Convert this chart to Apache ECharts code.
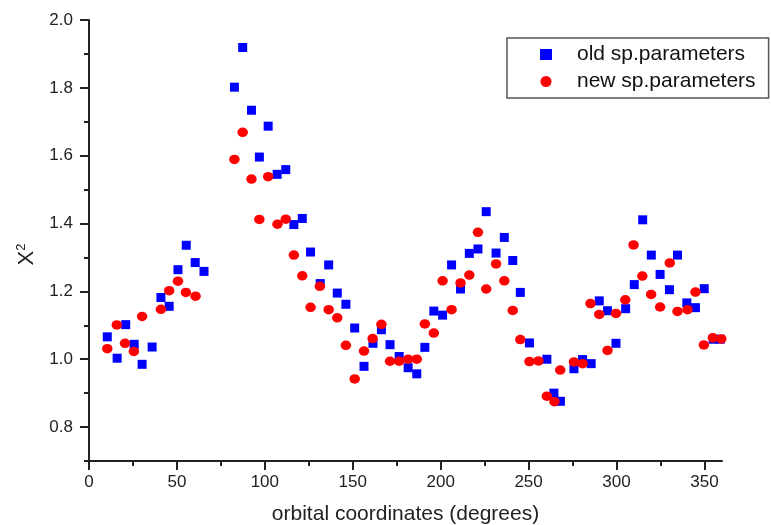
<!DOCTYPE html>
<html>
<head>
<meta charset="utf-8">
<script src="https://cdn.jsdelivr.net/npm/echarts@6/dist/echarts.min.js"></script>
<style>
  html, body { margin: 0; padding: 0; background: #fff; }
  #chart { width: 771px; height: 525px; }
</style>
</head>
<body>
<div id="chart"></div>
<script>
// Chi-square per orbital position, old vs new spectroscopic parameters
const oldX = [10.4, 16.0, 20.9, 25.7, 30.2, 35.9, 40.9, 45.6, 50.6, 55.3, 60.4, 65.4,
  82.7, 87.4, 92.4, 96.9, 101.9, 107.0, 111.9, 116.5, 121.3,
  126.0, 131.5, 136.3, 141.2, 146.1, 151.1, 156.4, 161.5, 166.3, 171.2,
  176.4, 181.5, 186.4, 191.0, 196.1, 201.1, 206.2, 211.3, 216.3, 221.2,
  225.9, 231.5, 236.2, 241.0, 245.3, 250.5, 260.4, 264.4, 268.1, 275.8,
  280.7, 285.6, 290.2, 294.9, 299.7, 305.2, 310.1, 314.9, 319.8, 324.8,
  330.1, 334.7, 340.0, 344.9, 349.9, 355.0, 359.0];
const oldY = [1.066, 1.003, 1.102, 1.044, 0.985, 1.036, 1.182, 1.156, 1.264, 1.336, 1.285, 1.259,
  1.802, 1.919, 1.734, 1.596, 1.687, 1.545, 1.559, 1.397, 1.415,
  1.316, 1.223, 1.278, 1.195, 1.162, 1.092, 0.979, 1.047, 1.087, 1.043,
  1.008, 0.975, 0.957, 1.035, 1.142, 1.130, 1.278, 1.207, 1.312, 1.325,
  1.435, 1.313, 1.359, 1.291, 1.197, 1.048, 1.000, 0.900, 0.876, 0.972,
  0.999, 0.987, 1.172, 1.143, 1.047, 1.149, 1.220, 1.411, 1.307, 1.250,
  1.205, 1.307, 1.166, 1.152, 1.208, 1.059, 1.059];

const newX = [10.4, 15.8, 20.5, 25.5, 30.2, 40.9, 45.6, 50.6, 55.1, 60.6,
  82.7, 87.4, 92.4, 96.9, 101.9, 107.2, 111.9, 116.5, 121.3, 126.0,
  131.3, 136.3, 141.2, 146.1, 151.1, 156.4, 161.3, 166.3, 171.2, 176.4,
  181.5, 186.4, 191.0, 196.1, 201.1, 206.2, 211.3, 216.3, 221.2, 225.9,
  231.5, 236.2, 241.0, 245.3, 250.5, 255.6, 260.4, 264.7, 268.0, 275.8,
  280.7, 285.2, 290.2, 294.9, 299.7, 305.0, 309.7, 314.7, 319.7, 324.8,
  330.3, 334.7, 340.4, 344.9, 349.7, 354.8, 359.6];
const newY = [1.031, 1.101, 1.047, 1.023, 1.126, 1.147, 1.202, 1.230, 1.197, 1.186,
  1.589, 1.669, 1.531, 1.412, 1.538, 1.398, 1.413, 1.307, 1.246, 1.153,
  1.215, 1.146, 1.122, 1.041, 0.942, 1.024, 1.061, 1.103, 0.994, 0.994,
  1.000, 1.000, 1.104, 1.077, 1.231, 1.146, 1.225, 1.248, 1.374, 1.207,
  1.281, 1.231, 1.144, 1.058, 0.993, 0.995, 0.891, 0.875, 0.968, 0.992,
  0.987, 1.164, 1.132, 1.026, 1.135, 1.175, 1.337, 1.245, 1.191, 1.154,
  1.284, 1.141, 1.146, 1.198, 1.042, 1.063, 1.060];

const seriesNames = ['old sp.parameters', 'new sp.parameters'];

// Tick positions
const xMajor = [0, 50, 100, 150, 200, 250, 300, 350];
const xMinor = [0, 25, 50, 75, 100, 125, 150, 175, 200, 225, 250, 275, 300, 325, 350];
const yMajor = [0.8, 1.0, 1.2, 1.4, 1.6, 1.8, 2.0];

const FONT = '"Liberation Sans", Arial, sans-serif';
const INK = '#222';
const lineStyle = { color: INK, width: 2 };

const chart = echarts.init(document.getElementById('chart'), null, { renderer: 'canvas' });

const zip = (xs, ys) => xs.map((x, i) => [x, ys[i]]);

chart.setOption({
  animation: false,
  backgroundColor: '#fff',
  grid: { left: 89, top: 20, right: 49, bottom: 64, containLabel: false, outerBoundsMode: 'none' },
  legend: {
    orient: 'vertical',
    left: 507,
    top: 38,
    padding: [6, 13, 6, 33],
    borderColor: '#555',
    borderWidth: 1.5,
    itemWidth: 12,
    itemHeight: 11,
    itemGap: 6,
    selectedMode: false,
    textStyle: { fontFamily: FONT, fontSize: 21, color: '#111', padding: [0, 0, 0, 20] },
    data: [
      { name: seriesNames[0], icon: 'rect' },
      { name: seriesNames[1], icon: 'circle' }
    ]
  },
  xAxis: [
    {
      type: 'value', min: 0, max: 360, interval: 25,
      name: 'orbital coordinates (degrees)',
      nameLocation: 'middle', nameGap: 43,
      nameTextStyle: { fontFamily: FONT, fontSize: 21, color: INK },
      axisLine: { show: true, onZero: false, lineStyle },
      axisTick: { show: true, inside: false, length: 5, customValues: xMinor, lineStyle },
      axisLabel: { show: true, margin: 13, customValues: xMajor, fontFamily: FONT, fontSize: 17, color: INK },
      splitLine: { show: false }
    },
    {
      type: 'value', min: 0, max: 360, interval: 50, position: 'bottom',
      axisLine: { show: false, onZero: false },
      axisTick: { show: true, inside: false, length: 9, customValues: xMajor, lineStyle },
      axisLabel: { show: false },
      splitLine: { show: false }
    }
  ],
  yAxis: [
    {
      type: 'value', min: 0.7, max: 2.0, interval: 0.1, position: 'left',
      name: '{x|X}{s|2}',
      nameLocation: 'middle', nameGap: 51, nameRotate: 90,
      nameTextStyle: {
        fontFamily: FONT, color: INK, padding: [0, 28, 0, 0],
        rich: {
          x: { fontFamily: FONT, fontSize: 22, color: INK },
          s: { fontFamily: FONT, fontSize: 13, color: INK, verticalAlign: 'top', padding: [0, 0, 10, 0] }
        }
      },
      axisLine: { show: true, onZero: false, lineStyle },
      axisTick: { show: true, inside: false, length: 5, lineStyle },
      axisLabel: {
        show: true, margin: 16, customValues: yMajor,
        fontFamily: FONT, fontSize: 17, color: INK,
        formatter: v => Number(v).toFixed(1)
      },
      splitLine: { show: false }
    },
    {
      type: 'value', min: 0.7, max: 2.0, interval: 0.1, position: 'left',
      axisLine: { show: false, onZero: false },
      axisTick: { show: true, inside: false, length: 9, customValues: yMajor, lineStyle },
      axisLabel: { show: false },
      splitLine: { show: false }
    }
  ],
  series: [
    {
      name: seriesNames[0], type: 'scatter', xAxisIndex: 0, yAxisIndex: 0,
      symbol: 'rect', symbolSize: [9, 9],
      itemStyle: { color: '#0000ff', opacity: 1 },
      emphasis: { disabled: true },
      z: 2,
      data: zip(oldX, oldY)
    },
    {
      name: seriesNames[1], type: 'scatter', xAxisIndex: 0, yAxisIndex: 0,
      symbol: 'circle', symbolSize: [10.5, 9.5],
      itemStyle: { color: '#ff0000', opacity: 1 },
      emphasis: { disabled: true },
      z: 3,
      data: zip(newX, newY)
    }
  ]
});
</script>
</body>
</html>
